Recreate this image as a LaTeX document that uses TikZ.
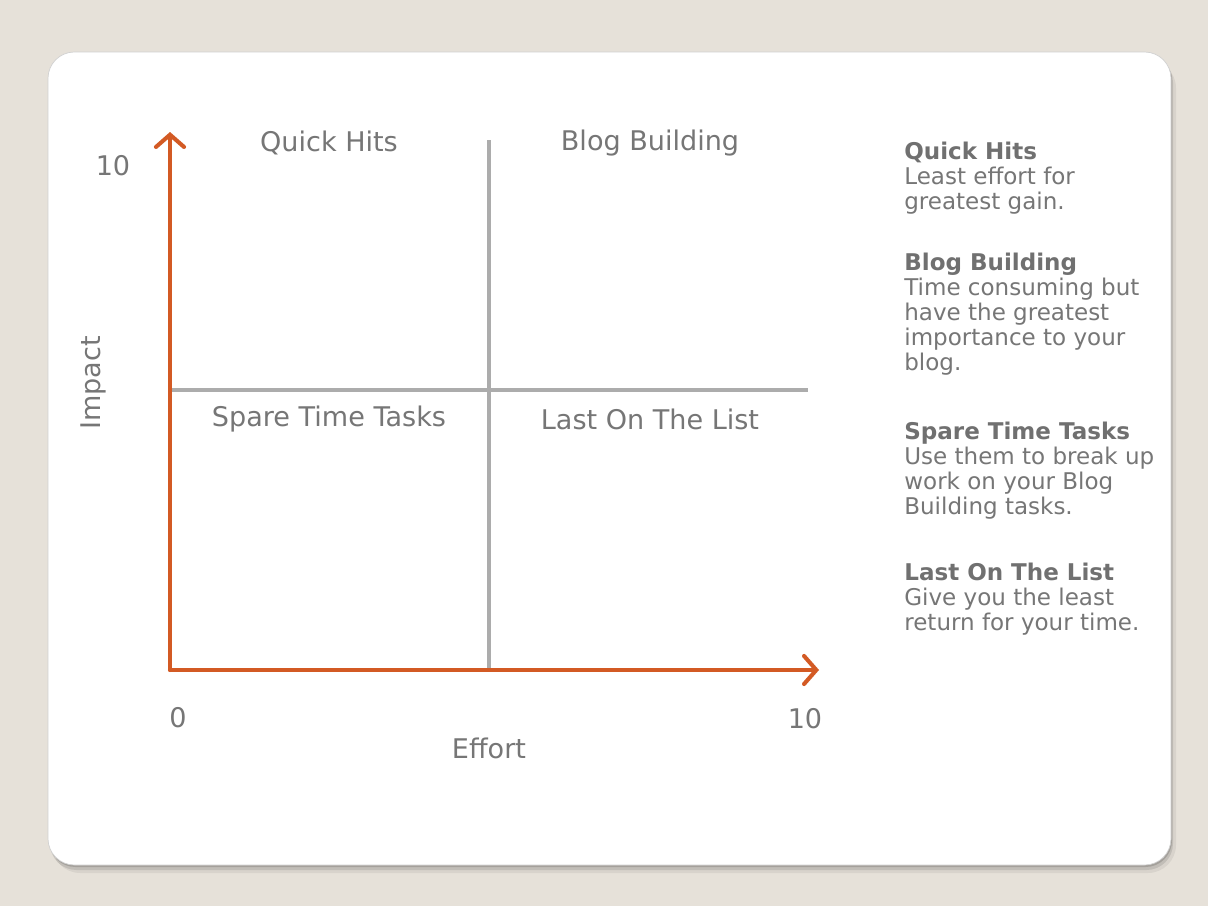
\documentclass[tikz,border=0pt]{standalone}
\usepackage{fontspec}
\setmainfont{DejaVu Sans}
\usetikzlibrary{arrows.meta}
\definecolor{paper}{RGB}{230,225,217}
\definecolor{axisorange}{RGB}{211,90,36}
\definecolor{splitgray}{RGB}{172,172,172}
\definecolor{labelgray}{RGB}{118,118,118}
\definecolor{headgray}{RGB}{112,112,112}

\begin{document}
\begin{tikzpicture}[x=0.02cm,y=-0.02cm,
	every node/.style={text=labelgray,inner sep=0pt},
	quad/.style={font=\fontsize{15.4}{18}\selectfont},
	note/.style={anchor=north west,align=left,font=\fontsize{13.1}{14.2}\selectfont},
	axis/.style={axisorange,line width=2.3pt,line cap=round,
		-{Straight Barb[length=7pt,width=16pt,line width=2.3pt,line cap=round]}},
	split/.style={splitgray,line width=2.2pt}]
	% page and card
	\fill[paper] (0,0) rectangle (1208,906);
	\fill[black,opacity=.06,rounded corners=16] (52,60) rectangle (1176,873);
	\fill[black,opacity=.10,rounded corners=15] (50,56) rectangle (1173,870);
	\fill[black,opacity=.15,rounded corners=15] (49,54) rectangle (1172,867);
	\filldraw[fill=white,draw=black!18,line width=.4pt,rounded corners=15] (48,52) rectangle (1171,865);

	\coordinate (o) at (170,670);
	\coordinate (ytop) at (170,132);
	\coordinate (xend) at (819,670);
	\coordinate (vtop) at (489,140);
	\coordinate (vbot) at (489,670);
	\coordinate (hleft) at (170,390);
	\coordinate (hright) at (808,390);

	% quadrant split lines
	\draw[split] (vtop) -- (vbot);
	\draw[split] (hleft) -- (hright);

	% axes
	\draw[axis] (o) -- (ytop);
	\draw[axis] (o) -- (xend);

	% axis labels
	\node[quad] (ymax) at (113,166) {10};
	\node[quad] (xmin) at (178,718) {0};
	\node[quad] (xmax) at (805,719) {10};
	\node[quad] (effort) at (489,748) {Effort};
	\node[quad,rotate=90] (impact) at (93,383) {Impact};

	% quadrants
	\node[quad] (q1) at (329,143) {Quick Hits};
	\node[quad] (q2) at (650,143) {Blog Building};
	\node[quad] (q3) at (329,419) {Spare Time Tasks};
	\node[quad] (q4) at (650,419) {Last On The List};

	% notes on the right
	\node[note] (n1) at (904,142) {\textbf{\color{headgray}Quick Hits}\\Least effort for\\greatest gain.};
	\node[note] (n2) at (904,253) {\textbf{\color{headgray}Blog Building}\\Time consuming but\\have the greatest\\importance to your\\blog.};
	\node[note] (n3) at (904,422) {\textbf{\color{headgray}Spare Time Tasks}\\Use them to break up\\work on your Blog\\Building tasks.};
	\node[note] (n4) at (904,563) {\textbf{\color{headgray}Last On The List}\\Give you the least\\return for your time.};
\end{tikzpicture}
\end{document}
